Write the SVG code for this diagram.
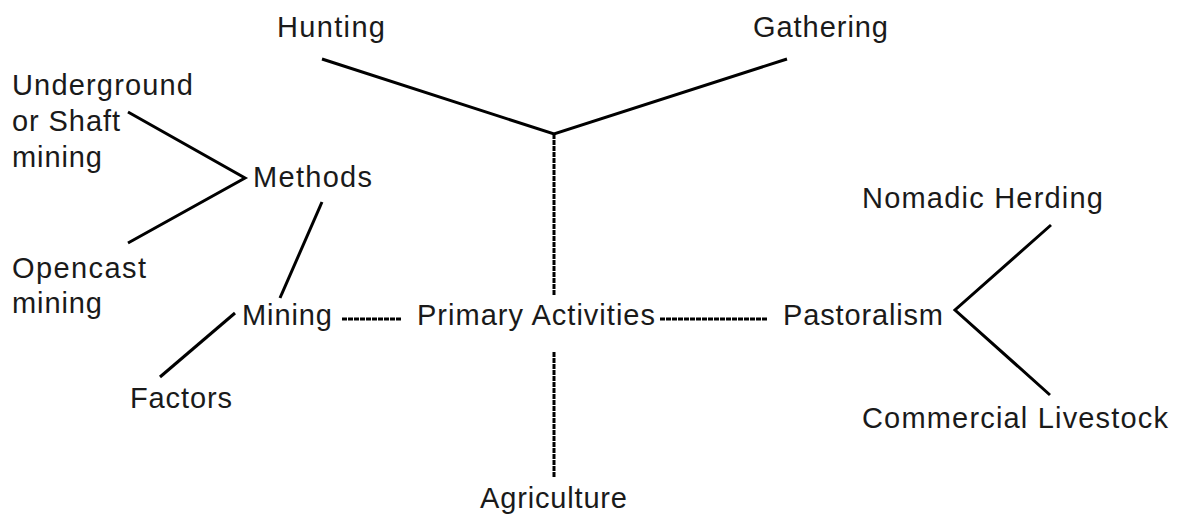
<svg xmlns="http://www.w3.org/2000/svg" width="1179" height="516" viewBox="0 0 1179 516">
<style>
text{font-family:"Liberation Sans",Arial,sans-serif;font-size:29px;fill:#1a1a1a;}
.ln{stroke:#000;stroke-width:3;fill:none;stroke-linejoin:miter;}
.dl{stroke:#000;stroke-width:3;fill:none;stroke-dasharray:5 1;}
</style>
<rect width="1179" height="516" fill="#fff"/>
<g id="connectors">
<polyline class="ln" points="322,59 554,134 787,59"/>
<line class="dl" x1="554" y1="134" x2="554" y2="295"/>
<line class="dl" x1="554" y1="352" x2="554" y2="477"/>
<line class="dl" x1="342" y1="319" x2="402" y2="319"/>
<line class="dl" x1="660" y1="319" x2="768" y2="319"/>
<polyline class="ln" points="1051,225 955,310 1050,395"/>
<polyline class="ln" points="128,112 245,178 128,243"/>
<line class="ln" x1="322" y1="202" x2="280" y2="298"/>
<line class="ln" x1="160" y1="377" x2="235" y2="313"/>
</g>
<g id="node-primary"><text x="417" y="325" textLength="238" lengthAdjust="spacing">Primary Activities</text></g>
<g id="node-hunting"><text x="277" y="37" textLength="108" lengthAdjust="spacing">Hunting</text></g>
<g id="node-gathering"><text x="753" y="37" textLength="135" lengthAdjust="spacing">Gathering</text></g>
<g id="node-agriculture"><text x="480" y="508" textLength="147" lengthAdjust="spacing">Agriculture</text></g>
<g id="node-mining"><text x="242" y="325" textLength="90" lengthAdjust="spacing">Mining</text></g>
<g id="node-methods"><text x="253" y="187" textLength="119" lengthAdjust="spacing">Methods</text></g>
<g id="node-underground">
<text x="12" y="95" textLength="181" lengthAdjust="spacing">Underground</text>
<text x="12" y="131" textLength="108" lengthAdjust="spacing">or Shaft</text>
<text x="12" y="167" textLength="90" lengthAdjust="spacing">mining</text>
</g>
<g id="node-opencast">
<text x="12" y="278" textLength="134" lengthAdjust="spacing">Opencast</text>
<text x="12" y="313" textLength="90" lengthAdjust="spacing">mining</text>
</g>
<g id="node-factors"><text x="130" y="408" textLength="102" lengthAdjust="spacing">Factors</text></g>
<g id="node-pastoralism"><text x="783" y="325" textLength="160" lengthAdjust="spacing">Pastoralism</text></g>
<g id="node-nomadic"><text x="862" y="208" textLength="241" lengthAdjust="spacing">Nomadic Herding</text></g>
<g id="node-commercial"><text x="862" y="428" textLength="306" lengthAdjust="spacing">Commercial Livestock</text></g>
</svg>
